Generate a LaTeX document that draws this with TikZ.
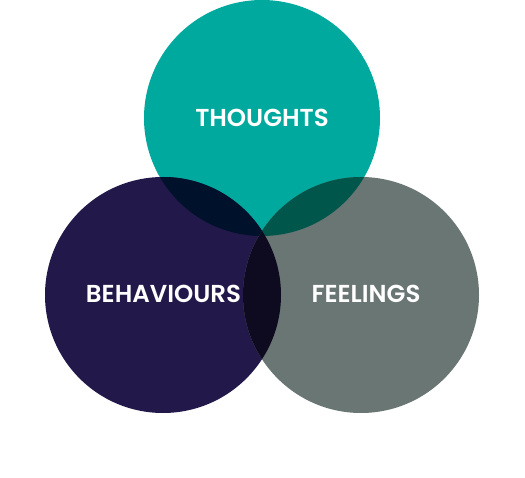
\documentclass[tikz,border=0pt]{standalone}
\usepackage{fontspec}
\setmainfont{Poppins}[BoldFont={* SemiBold}]
\definecolor{teal}{HTML}{00A99D}
\definecolor{navy}{HTML}{22194A}
\definecolor{grey}{HTML}{6A7674}
\definecolor{tl}{HTML}{00112B}
\definecolor{tr}{HTML}{01564C}
\definecolor{lr}{HTML}{0E0B20}
\tikzset{lbl/.style={text=white,inner sep=0pt,font=\bfseries\fontsize{24.5}{26}\selectfont}}
\begin{document}
\begin{tikzpicture}[x=1pt,y=-1pt]
\useasboundingbox (0,0) rectangle (525,478);
\coordinate (T) at (262,118);
\coordinate (L) at (163,295);
\coordinate (R) at (361,295);
\fill[teal] (T) circle (118);
\fill[navy] (L) circle (118);
\fill[grey] (R) circle (118);
\begin{scope}
\clip (T) circle (118);
\fill[tl] (L) circle (118);
\fill[tr] (R) circle (118);
\end{scope}
\begin{scope}
\clip (L) circle (118);
\fill[lr] (R) circle (118);
\end{scope}
\node[lbl,anchor=base] (t) at (262,127) {THOUGHTS};
\node[lbl,anchor=base] (b) at (163.5,303) {BEHAVIOURS};
\node[lbl,anchor=base] (f) at (366,303) {FEELINGS};
\end{tikzpicture}
\end{document}
